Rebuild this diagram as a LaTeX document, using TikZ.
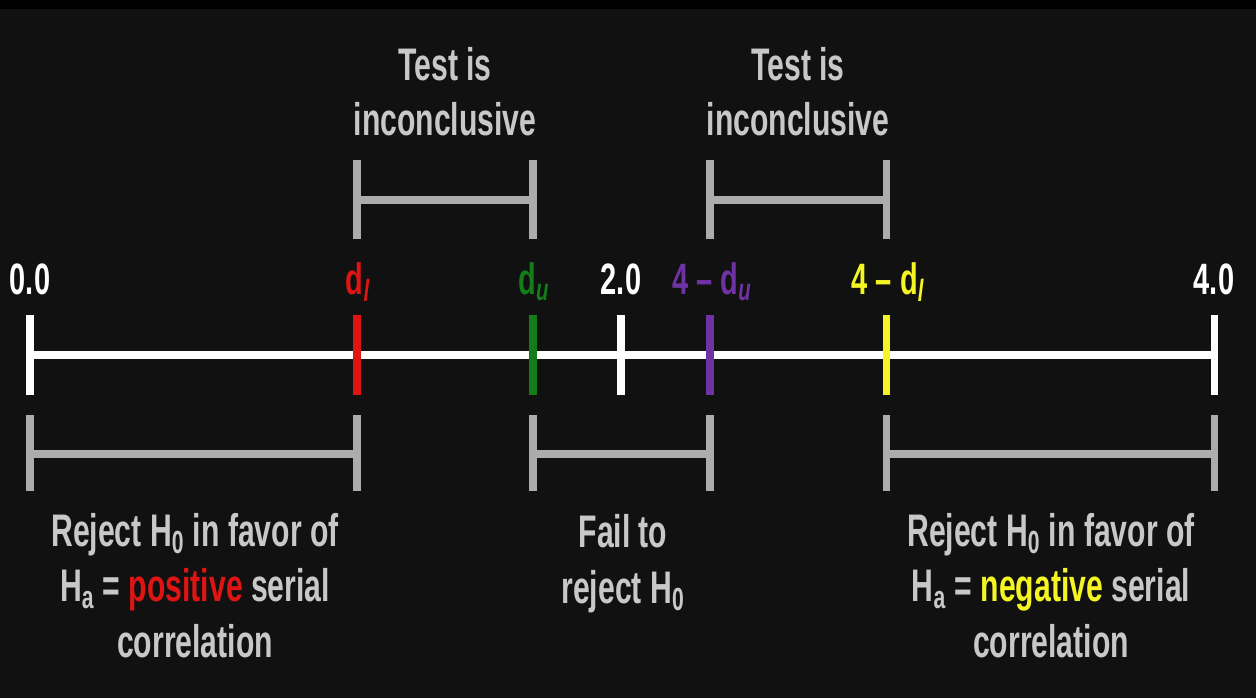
\documentclass[tikz,border=0pt]{standalone}
\usepackage{fontspec}
\setmainfont{Liberation Sans}[FakeStretch=0.66]
\definecolor{bgdark}{RGB}{17, 17, 17}
\definecolor{bargray}{RGB}{172, 172, 172}
\definecolor{textgray}{RGB}{200, 200, 200}
\definecolor{lowred}{RGB}{225, 20, 20}
\definecolor{upgreen}{RGB}{20, 125, 25}
\definecolor{uppurple}{RGB}{110, 50, 165}
\definecolor{lowyellow}{RGB}{245, 245, 35}
\usetikzlibrary{positioning}

\tikzset{
  ticklabel/.style={anchor=base, font=\bfseries\fontsize{25}{30}\selectfont},
  note/.style={anchor=base, align=center, text=textgray, inner sep=0pt,
               font=\bfseries\fontsize{26}{31.5}\selectfont},
  bracket/.style={draw=bargray, line width=4pt}
}

\begin{document}
\begin{tikzpicture}
  \useasboundingbox (0,0) rectangle (25.12,13.96);
  % Background
  \fill[bgdark] (0,0) rectangle (25.12,13.96);
  \fill[black] (0,13.78) rectangle (25.12,13.96);

  % Number line with critical values
  \draw[white, line width=4.5pt] (0.6,6.86) -- (24.28,6.86);
  \foreach \x/\col in {0.6/white, 7.14/lowred, 10.66/upgreen, 12.42/white,
                       14.2/uppurple, 17.72/lowyellow, 24.28/white}
    \draw[\col, line width=4pt] (\x,6.06) -- (\x,7.66);

  % Tick labels
  \node[ticklabel, white] (zero) at (0.6,8.08) {0.0};
  \node[ticklabel, lowred] (dlow) at (7.16,8.08) {d\textsubscript{\itshape l}};
  \node[ticklabel, upgreen] (dup) at (10.68,8.08) {d\textsubscript{\itshape u}};
  \node[ticklabel, white] (two) at (12.42,8.08) {2.0};
  \node[ticklabel, uppurple] (fourdup) at (14.24,8.08) {4 -- d\textsubscript{\itshape u}};
  \node[ticklabel, lowyellow] (fourdlow) at (17.76,8.08) {4 -- d\textsubscript{\itshape l}};
  \node[ticklabel, white] (four) at (24.28,8.08) {4.0};

  % Upper brackets (inconclusive regions)
  \foreach \a/\b in {7.14/10.66, 14.2/17.72}
    \draw[bracket] (\a,10.76) -- (\a,9.18) (\a,9.96) -- (\b,9.96) (\b,10.76) -- (\b,9.18);
  \node[note] (inconcl) at (8.9,11.24) {Test is\\inconclusive};
  \node[note] (inconcr) at (15.96,11.24) {Test is\\inconclusive};

  % Lower brackets (decision regions)
  \foreach \a/\b in {0.6/7.14, 10.66/14.2, 17.72/24.28}
    \draw[bracket] (\a,5.66) -- (\a,4.14) (\a,4.88) -- (\b,4.88) (\b,5.66) -- (\b,4.14);
  \node[note] (rejpos) at (3.9,0.82)
    {Reject H\textsubscript{0} in favor of\\H\textsubscript{a} = \textcolor{lowred}{positive} serial\\correlation};
  \node[note] (fail) at (12.46,1.9) {Fail to\\reject H\textsubscript{0}};
  \node[note] (rejneg) at (21.02,0.82)
    {Reject H\textsubscript{0} in favor of\\H\textsubscript{a} = \textcolor{lowyellow}{negative} serial\\correlation};
\end{tikzpicture}
\end{document}
